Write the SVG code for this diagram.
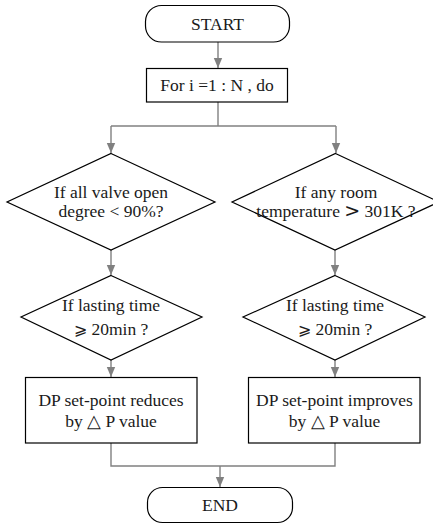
<svg xmlns="http://www.w3.org/2000/svg" width="433" height="525" viewBox="0 0 433 525">
<defs>
<style>
.shape{fill:#fff;stroke:#000;stroke-width:1.2}
.conn{fill:none;stroke:#808080;stroke-width:1.4}
</style>
<marker id="ah" markerUnits="userSpaceOnUse" markerWidth="10" markerHeight="10" viewBox="0 0 10 10" refX="10" refY="5" orient="auto">
<path d="M0,0.8 L10,5 L0,9.2 Z" fill="#808080"/>
</marker>
</defs>
<rect width="433" height="525" fill="#fff"/>
<g id="connectors">
<line class="conn" x1="218" y1="42" x2="218" y2="68" marker-end="url(#ah)"/>
<polyline class="conn" points="218,102 218,126"/>
<polyline class="conn" points="111,126 336,126"/>
<line class="conn" x1="111" y1="126" x2="111" y2="153" marker-end="url(#ah)"/>
<line class="conn" x1="336" y1="126" x2="336" y2="153" marker-end="url(#ah)"/>
<line class="conn" x1="111" y1="250" x2="111" y2="275" marker-end="url(#ah)"/>
<line class="conn" x1="335" y1="250" x2="335" y2="275" marker-end="url(#ah)"/>
<line class="conn" x1="111" y1="360" x2="111" y2="377" marker-end="url(#ah)"/>
<line class="conn" x1="335" y1="360" x2="335" y2="377" marker-end="url(#ah)"/>
<polyline class="conn" points="111,443 111,466 335,466 335,443"/>
<line class="conn" x1="220" y1="466" x2="220" y2="487" marker-end="url(#ah)"/>
</g>
<g font-family="Liberation Serif, Times New Roman, serif" font-size="17.5" fill="#1a1a1a" text-anchor="middle">
<g id="start">
<rect class="shape" x="145.5" y="5.5" width="144" height="36.5" rx="16"/>
<text x="217.5" y="30">START</text>
</g>
<g id="loop">
<rect class="shape" x="146.5" y="68.5" width="141" height="33.5"/>
<text x="217" y="91">For i =1 : N , do</text>
</g>
<g id="cond-valve">
<polygon class="shape" points="111,153.5 215,202 111,250 7,202"/>
<text x="111" y="198">If all valve open</text>
<text x="111" y="217">degree &lt; 90%?</text>
</g>
<g id="cond-temp">
<polygon class="shape" points="335.5,153.5 439,202 335,250 232,202"/>
<text x="336" y="198">If any room</text>
<text x="336" y="217">temperature <tspan font-family="DejaVu Serif, serif" font-size="19">&gt;</tspan> 301K ?</text>
</g>
<g id="time-left">
<polygon class="shape" points="111,275.5 202,317 111,360 21,317"/>
<text x="111" y="311">If lasting time</text>
<text x="111" y="335"><tspan font-family="DejaVu Serif, DejaVu Sans, serif" font-size="16">⩾</tspan> 20min ?</text>
</g>
<g id="time-right">
<polygon class="shape" points="335,275.5 425,317 335,360 243,317"/>
<text x="335" y="311">If lasting time</text>
<text x="335" y="335"><tspan font-family="DejaVu Serif, DejaVu Sans, serif" font-size="16">⩾</tspan> 20min ?</text>
</g>
<g id="reduce">
<rect class="shape" x="25.5" y="377.5" width="171.5" height="65.5"/>
<text x="111" y="406">DP set-point reduces</text>
<text x="111" y="427">by  △ P value</text>
</g>
<g id="improve">
<rect class="shape" x="248.5" y="377.5" width="171.5" height="65.5"/>
<text x="334.5" y="406">DP set-point improves</text>
<text x="334.5" y="427">by  △ P value</text>
</g>
<g id="end">
<rect class="shape" x="147.5" y="487.5" width="145" height="35" rx="15"/>
<text x="220" y="511">END</text>
</g>
</g>
</svg>
